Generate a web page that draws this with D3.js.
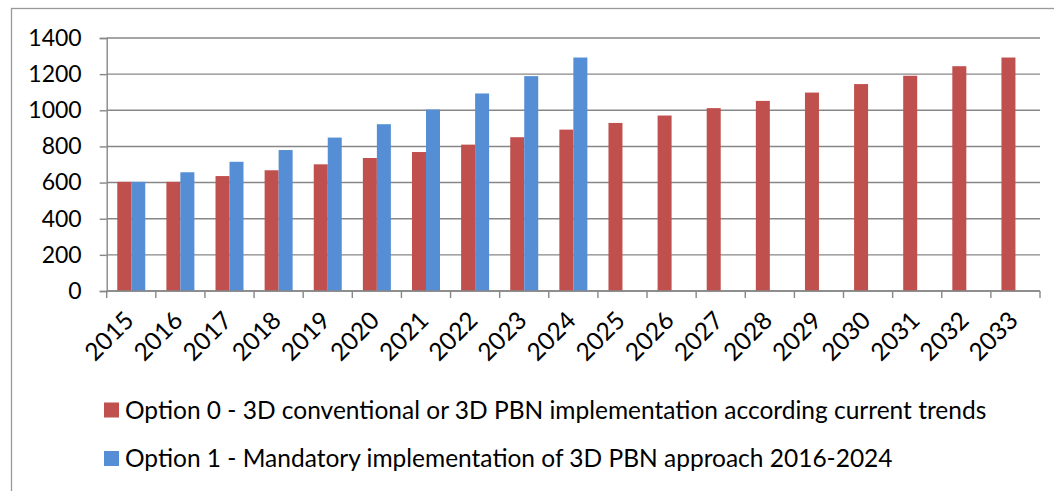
<!DOCTYPE html>
<html lang="en">
<head>
  <meta charset="UTF-8" />
  <title>Option 0 vs Option 1</title>
  <script src="https://d3js.org/d3.v7.min.js"></script>
  <style>
    body { margin: 0; background: #fff; font-family: Lato, "Open Sans", sans-serif; }
    .tick text { font-family: Lato, sans-serif; }
  </style>
</head>
<body>
  <svg width="1054" height="491"></svg>

  <script>
  const years = ["2015","2016","2017","2018","2019","2020","2021","2022","2023","2024",
                 "2025","2026","2027","2028","2029","2030","2031","2032","2033"];
  const option0 = [604, 604, 636, 668, 701, 736, 769, 810, 851, 893,
                   930, 971, 1012, 1052, 1098, 1145, 1191, 1244, 1292];
  const option1 = [604, 657, 715, 780, 849, 923, 1004, 1093, 1189, 1292];
  const yTicks = [0, 200, 400, 600, 800, 1000, 1200, 1400];
  const seriesNames = [
    "Option 0 - 3D conventional or 3D PBN implementation according current trends",
    "Option 1 - Mandatory implementation of 3D PBN approach 2016-2024"
  ];
  const colors = ["#C0504D", "#558ED5"];

  const svg = d3.select("svg");
  const grey = "#878787";

  // outer frame (runs off the right and bottom edges like the original)
  svg.append("rect")
    .attr("x", 11.5).attr("y", 8.5)
    .attr("width", 1100).attr("height", 600)
    .attr("fill", "none").attr("stroke", "#999").attr("stroke-width", 1.3);

  const plotL = 106.7, plotR = 1040, plotT = 38, plotB = 291;

  const x = d3.scaleBand()
    .domain(years)
    .range([plotL, plotR])
    .paddingInner(0.43)
    .paddingOuter(0.215);

  const xSub = d3.scaleBand()
    .domain([0, 1])
    .range([0, x.bandwidth()]);

  const y = d3.scaleLinear()
    .domain([0, 1400])
    .range([plotB, plotT]);

  // gridlines
  svg.append("g")
    .selectAll("line")
    .data(yTicks)
    .enter().append("line")
    .attr("x1", plotL).attr("x2", plotR)
    .attr("y1", d => y(d)).attr("y2", d => y(d))
    .attr("stroke", grey).attr("stroke-width", 1.4);

  // y axis
  const yAxis = svg.append("g")
    .attr("transform", `translate(${plotL},0)`)
    .call(d3.axisLeft(y).tickValues(yTicks).tickSize(7).tickPadding(18).tickFormat(d3.format("d")));
  yAxis.select(".domain").attr("stroke", grey).attr("stroke-width", 1.4);
  yAxis.selectAll(".tick line").attr("stroke", grey).attr("stroke-width", 1.4);
  yAxis.selectAll(".tick text")
    .attr("fill", "#000")
    .style("font-size", "23px");

  // bars
  const series = [option0, option1];
  series.forEach((vals, si) => {
    svg.append("g")
      .selectAll("rect")
      .data(vals)
      .enter().append("rect")
      .attr("x", (d, i) => x(years[i]) + xSub(si))
      .attr("width", xSub.bandwidth())
      .attr("y", d => y(d))
      .attr("height", d => y(0) - y(d))
      .attr("fill", colors[si]);
  });

  // x axis line + ticks at category boundaries
  svg.append("line")
    .attr("x1", plotL).attr("x2", plotR)
    .attr("y1", y(0)).attr("y2", y(0))
    .attr("stroke", grey).attr("stroke-width", 1.4);

  const bounds = d3.range(years.length + 1).map(i => plotL + i * x.step());
  svg.append("g")
    .selectAll("line")
    .data(bounds)
    .enter().append("line")
    .attr("x1", d => d).attr("x2", d => d)
    .attr("y1", y(0)).attr("y2", y(0) + 7)
    .attr("stroke", grey).attr("stroke-width", 1.4);

  // rotated year labels
  svg.append("g")
    .selectAll("text")
    .data(years)
    .enter().append("text")
    .attr("transform", d => `translate(${x(d) + x.bandwidth() / 2 + 4},${y(0) + 31}) rotate(-45)`)
    .attr("text-anchor", "end")
    .style("font-size", "24.5px")
    .attr("fill", "#000")
    .text(d => d);

  // legend
  const legend = svg.append("g")
    .selectAll("g")
    .data(seriesNames)
    .enter().append("g")
    .attr("transform", (d, i) => `translate(104,${410 + i * 48.5})`);

  legend.append("rect")
    .attr("x", 0).attr("y", -7.5)
    .attr("width", 15).attr("height", 15)
    .attr("fill", (d, i) => colors[i]);

  legend.append("text")
    .attr("x", 21)
    .attr("dy", "0.36em")
    .style("font-size", "24.5px")
    .attr("fill", "#000")
    .text(d => d);
  </script>
</body>
</html>
